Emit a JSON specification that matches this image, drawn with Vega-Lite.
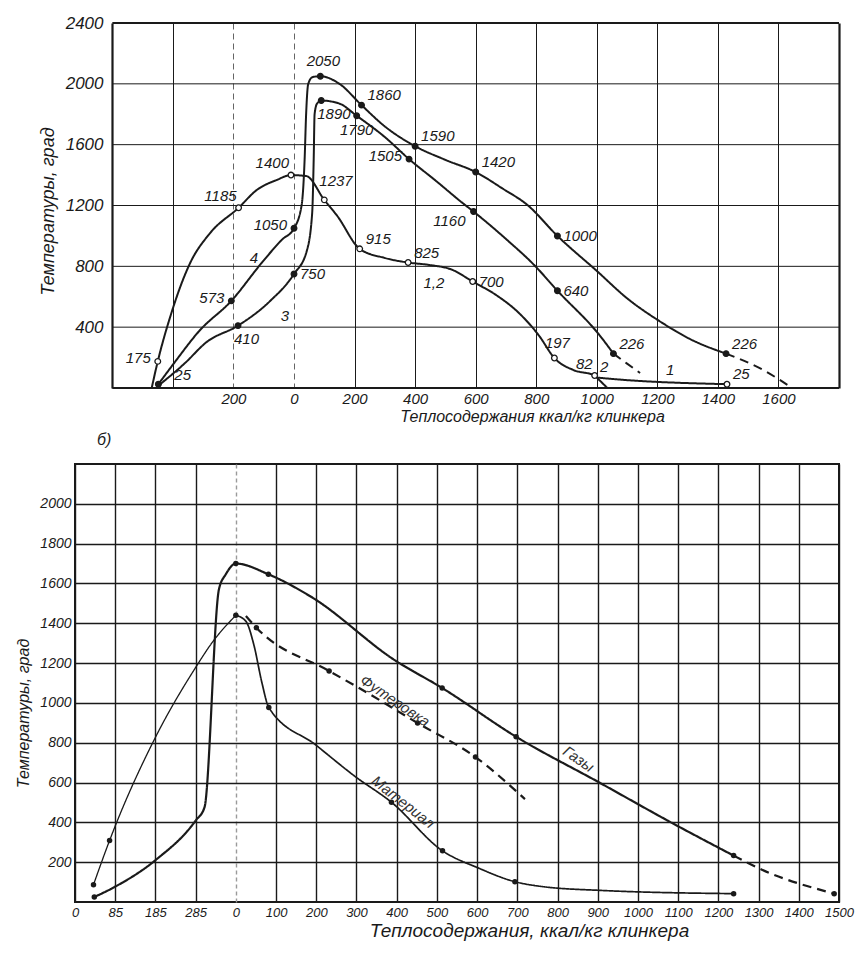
{
  "$schema": "https://vega.github.io/schema/vega-lite/v6.json",
  "background": "white",
  "padding": {"left": 14, "top": 14, "right": 5, "bottom": 5},
  "spacing": 7,
  "config": {
    "view": {"stroke": null},
    "axis": {
      "labelFont": "Liberation Sans", "titleFont": "Liberation Sans",
      "labelFontStyle": "italic", "titleFontStyle": "italic", "titleFontWeight": "normal",
      "labelColor": "#1a1a1a", "titleColor": "#1a1a1a", "gridOpacity": 1
    },
    "title": {"font": "Liberation Sans"}
  },
  "datasets": {
    "hg": [{"y": 0}, {"y": 400}, {"y": 800}, {"y": 1200}, {"y": 1600}, {"y": 2000}, {"y": 2400}],
    "bg": [{"y": 200}, {"y": 400}, {"y": 600}, {"y": 800}, {"y": 1000}, {"y": 1200}, {"y": 1400}, {"y": 1600}, {"y": 1800}, {"y": 2000}],
    "tl": [
      {"s": "c12", "o": 1, "x": -470, "y": 0},
      {"s": "c12", "o": 2, "x": -450, "y": 175},
      {"s": "c12", "o": 3, "x": -407, "y": 480},
      {"s": "c12", "o": 4, "x": -343, "y": 822},
      {"s": "c12", "o": 5, "x": -277, "y": 1019},
      {"s": "c12", "o": 6, "x": -183, "y": 1185},
      {"s": "c12", "o": 7, "x": -123, "y": 1302},
      {"s": "c12", "o": 8, "x": -57, "y": 1368},
      {"s": "c12", "o": 9, "x": -10, "y": 1400},
      {"s": "c12", "o": 10, "x": 40, "y": 1394},
      {"s": "c12", "o": 11, "x": 100, "y": 1237},
      {"s": "c12", "o": 12, "x": 143, "y": 1131},
      {"s": "c12", "o": 13, "x": 217, "y": 915},
      {"s": "c12", "o": 14, "x": 300, "y": 855},
      {"s": "c12", "o": 15, "x": 377, "y": 825},
      {"s": "c12", "o": 16, "x": 443, "y": 810},
      {"s": "c12", "o": 17, "x": 523, "y": 777},
      {"s": "c12", "o": 18, "x": 590, "y": 700},
      {"s": "c12", "o": 19, "x": 667, "y": 612},
      {"s": "c12", "o": 20, "x": 743, "y": 493},
      {"s": "c12", "o": 21, "x": 810, "y": 342},
      {"s": "c12", "o": 22, "x": 860, "y": 197},
      {"s": "c12", "o": 23, "x": 923, "y": 118},
      {"s": "c12", "o": 24, "x": 993, "y": 82},
      {"s": "c12", "o": 25, "x": 1005, "y": 68},
      {"s": "c12", "o": 26, "x": 1430, "y": 25},
      {"s": "c2", "o": 1, "x": 993, "y": 82},
      {"s": "c2", "o": 2, "x": 1012, "y": 45},
      {"s": "c2", "o": 3, "x": 1035, "y": 0},
      {"s": "c4", "o": 1, "x": -448, "y": 25},
      {"s": "c4", "o": 2, "x": -396, "y": 164},
      {"s": "c4", "o": 3, "x": -313, "y": 375},
      {"s": "c4", "o": 4, "x": -207, "y": 573},
      {"s": "c4", "o": 5, "x": -107, "y": 822},
      {"s": "c4", "o": 6, "x": -40, "y": 975},
      {"s": "c4", "o": 7, "x": 0, "y": 1050},
      {"s": "c4", "o": 8, "x": 25, "y": 1200},
      {"s": "c4", "o": 9, "x": 35, "y": 1500},
      {"s": "c4", "o": 10, "x": 40, "y": 1800},
      {"s": "c4", "o": 11, "x": 47, "y": 2000},
      {"s": "c4", "o": 12, "x": 62, "y": 2045},
      {"s": "c4", "o": 13, "x": 87, "y": 2050},
      {"s": "c4", "o": 14, "x": 150, "y": 2000},
      {"s": "c4", "o": 15, "x": 223, "y": 1860},
      {"s": "c4", "o": 16, "x": 300, "y": 1720},
      {"s": "c4", "o": 17, "x": 400, "y": 1590},
      {"s": "c4", "o": 18, "x": 500, "y": 1500},
      {"s": "c4", "o": 19, "x": 600, "y": 1420},
      {"s": "c4", "o": 20, "x": 690, "y": 1310},
      {"s": "c4", "o": 21, "x": 770, "y": 1205},
      {"s": "c4", "o": 22, "x": 870, "y": 1000},
      {"s": "c4", "o": 23, "x": 1000, "y": 770},
      {"s": "c4", "o": 24, "x": 1100, "y": 590},
      {"s": "c4", "o": 25, "x": 1207, "y": 440},
      {"s": "c4", "o": 26, "x": 1310, "y": 320},
      {"s": "c4", "o": 27, "x": 1427, "y": 226},
      {"s": "c3", "o": 1, "x": -450, "y": 12},
      {"s": "c3", "o": 2, "x": -360, "y": 164},
      {"s": "c3", "o": 3, "x": -290, "y": 300},
      {"s": "c3", "o": 4, "x": -185, "y": 410},
      {"s": "c3", "o": 5, "x": -80, "y": 570},
      {"s": "c3", "o": 6, "x": 0, "y": 750},
      {"s": "c3", "o": 7, "x": 42, "y": 900},
      {"s": "c3", "o": 8, "x": 60, "y": 1150},
      {"s": "c3", "o": 9, "x": 65, "y": 1500},
      {"s": "c3", "o": 10, "x": 68, "y": 1800},
      {"s": "c3", "o": 11, "x": 76, "y": 1870},
      {"s": "c3", "o": 12, "x": 90, "y": 1890},
      {"s": "c3", "o": 13, "x": 150, "y": 1870},
      {"s": "c3", "o": 14, "x": 207, "y": 1790},
      {"s": "c3", "o": 15, "x": 300, "y": 1650},
      {"s": "c3", "o": 16, "x": 380, "y": 1505},
      {"s": "c3", "o": 17, "x": 470, "y": 1360},
      {"s": "c3", "o": 18, "x": 557, "y": 1216},
      {"s": "c3", "o": 19, "x": 593, "y": 1160},
      {"s": "c3", "o": 20, "x": 700, "y": 980},
      {"s": "c3", "o": 21, "x": 793, "y": 809},
      {"s": "c3", "o": 22, "x": 870, "y": 640},
      {"s": "c3", "o": 23, "x": 1010, "y": 345},
      {"s": "c3", "o": 24, "x": 1055, "y": 226},
      {"s": "c3d", "o": 1, "x": 1055, "y": 226},
      {"s": "c3d", "o": 2, "x": 1100, "y": 160},
      {"s": "c3d", "o": 3, "x": 1143, "y": 99},
      {"s": "c4d", "o": 1, "x": 1427, "y": 226},
      {"s": "c4d", "o": 2, "x": 1550, "y": 118},
      {"s": "c4d", "o": 3, "x": 1645, "y": 0}
    ],
    "tp": [
      {"s": "c12", "x": -450, "y": 175, "label": "175"},
      {"s": "c12", "x": -183, "y": 1185, "label": "1185"},
      {"s": "c12", "x": -10, "y": 1400, "label": "1400"},
      {"s": "c12", "x": 100, "y": 1237, "label": "1237"},
      {"s": "c12", "x": 217, "y": 915, "label": "915"},
      {"s": "c12", "x": 377, "y": 825, "label": "825"},
      {"s": "c12", "x": 590, "y": 700, "label": "700"},
      {"s": "c12", "x": 860, "y": 197, "label": "197"},
      {"s": "c12", "x": 993, "y": 82, "label": "82"},
      {"s": "c12", "x": 1430, "y": 25, "label": "25"},
      {"s": "c4", "x": -448, "y": 25, "label": "25"},
      {"s": "c4", "x": -207, "y": 573, "label": "573"},
      {"s": "c4", "x": 0, "y": 1050, "label": "1050"},
      {"s": "c4", "x": 87, "y": 2050, "label": "2050"},
      {"s": "c4", "x": 223, "y": 1860, "label": "1860"},
      {"s": "c4", "x": 400, "y": 1590, "label": "1590"},
      {"s": "c4", "x": 600, "y": 1420, "label": "1420"},
      {"s": "c4", "x": 870, "y": 1000, "label": "1000"},
      {"s": "c4", "x": 1427, "y": 226, "label": "226"},
      {"s": "c3", "x": -185, "y": 410, "label": "410"},
      {"s": "c3", "x": 0, "y": 750, "label": "750"},
      {"s": "c3", "x": 90, "y": 1890, "label": "1890"},
      {"s": "c3", "x": 207, "y": 1790, "label": "1790"},
      {"s": "c3", "x": 380, "y": 1505, "label": "1505"},
      {"s": "c3", "x": 593, "y": 1160, "label": "1160"},
      {"s": "c3", "x": 870, "y": 640, "label": "640"},
      {"s": "c3", "x": 1055, "y": 226, "label": "226"}
    ],
    "tn": [
      {"x": -132, "y": 855, "t": "4"},
      {"x": -30, "y": 473, "t": "3"},
      {"x": 462, "y": 690, "t": "1,2"},
      {"x": 1024, "y": 138, "t": "2"},
      {"x": 1242, "y": 118, "t": "1"}
    ],
    "bl": [
      {"s": "gas", "o": 1, "x": -352, "y": 25},
      {"s": "gas", "o": 2, "x": -302, "y": 75},
      {"s": "gas", "o": 3, "x": -200, "y": 210},
      {"s": "gas", "o": 4, "x": -100, "y": 409},
      {"s": "gas", "o": 5, "x": -78, "y": 475},
      {"s": "gas", "o": 6, "x": -42, "y": 1571},
      {"s": "gas", "o": 7, "x": -25, "y": 1646},
      {"s": "gas", "o": 8, "x": 0, "y": 1700},
      {"s": "gas", "o": 9, "x": 81, "y": 1646},
      {"s": "gas", "o": 10, "x": 188, "y": 1532},
      {"s": "gas", "o": 11, "x": 395, "y": 1215},
      {"s": "gas", "o": 12, "x": 513, "y": 1075},
      {"s": "gas", "o": 13, "x": 697, "y": 830},
      {"s": "gas", "o": 14, "x": 904, "y": 600},
      {"s": "gas", "o": 15, "x": 1082, "y": 400},
      {"s": "gas", "o": 16, "x": 1238, "y": 233},
      {"s": "gasD", "o": 1, "x": 1238, "y": 233},
      {"s": "gasD", "o": 2, "x": 1303, "y": 167},
      {"s": "gasD", "o": 3, "x": 1488, "y": 42},
      {"s": "matL", "o": 1, "x": -354, "y": 87},
      {"s": "matL", "o": 2, "x": -314, "y": 309},
      {"s": "matL", "o": 3, "x": -200, "y": 827},
      {"s": "matL", "o": 4, "x": -100, "y": 1178},
      {"s": "matL", "o": 5, "x": -59, "y": 1303},
      {"s": "matL", "o": 6, "x": 0, "y": 1440},
      {"s": "mat", "o": 1, "x": 0, "y": 1440},
      {"s": "mat", "o": 2, "x": 25, "y": 1410},
      {"s": "mat", "o": 3, "x": 45, "y": 1290},
      {"s": "mat", "o": 4, "x": 65, "y": 1100},
      {"s": "mat", "o": 5, "x": 82, "y": 977},
      {"s": "mat", "o": 6, "x": 198, "y": 790},
      {"s": "mat", "o": 7, "x": 297, "y": 630},
      {"s": "mat", "o": 8, "x": 387, "y": 501},
      {"s": "mat", "o": 9, "x": 514, "y": 257},
      {"s": "mat", "o": 10, "x": 604, "y": 170},
      {"s": "mat", "o": 11, "x": 694, "y": 102},
      {"s": "mat", "o": 12, "x": 760, "y": 78},
      {"s": "mat", "o": 13, "x": 910, "y": 58},
      {"s": "mat", "o": 14, "x": 1238, "y": 42},
      {"s": "fut", "o": 1, "x": 25, "y": 1437},
      {"s": "fut", "o": 2, "x": 51, "y": 1378},
      {"s": "fut", "o": 3, "x": 232, "y": 1160},
      {"s": "fut", "o": 4, "x": 297, "y": 1086},
      {"s": "fut", "o": 5, "x": 452, "y": 899},
      {"s": "fut", "o": 6, "x": 596, "y": 728},
      {"s": "fut", "o": 7, "x": 719, "y": 517}
    ],
    "bp": [
      {"x": -352, "y": 25}, {"x": 0, "y": 1700}, {"x": 81, "y": 1646}, {"x": 513, "y": 1075},
      {"x": 697, "y": 830}, {"x": 1238, "y": 233}, {"x": 1488, "y": 42},
      {"x": -354, "y": 87}, {"x": -314, "y": 309}, {"x": 0, "y": 1440},
      {"x": 82, "y": 977}, {"x": 387, "y": 501}, {"x": 514, "y": 257}, {"x": 694, "y": 102}, {"x": 1238, "y": 42},
      {"x": 51, "y": 1378}, {"x": 232, "y": 1160}, {"x": 452, "y": 899}, {"x": 596, "y": 728}
    ],
    "bt": [
      {"x": 396, "y": 1010, "t": "Футеровка"},
      {"x": 416, "y": 502, "t": "Материал"},
      {"x": 852, "y": 718, "t": "Газы"}
    ]
  },
  "vconcat": [
    {
      "width": 764,
      "height": 365,
      "layer": [
        {
          "data": {"name": "hg"},
          "mark": {"type": "rule", "color": "#1a1a1a"},
          "encoding": {
            "y": {"field": "y", "type": "quantitative", "scale": {"domain": [0, 2400], "nice": false, "zero": false}},
            "x": {"datum": -600, "type": "quantitative", "scale": {"domain": [-723.33, 1800], "nice": false, "zero": false}},
            "x2": {"datum": 1800},
            "strokeWidth": {"condition": {"test": "datum.y == 0 || datum.y == 2400", "value": 2.2}, "value": 1}
          }
        },
        {
          "data": {"name": "tl"},
          "mark": {"type": "line", "interpolate": "monotone", "color": "#1a1a1a", "strokeWidth": 2},
          "encoding": {
            "x": {
              "field": "x", "type": "quantitative",
              "scale": {"domain": [-723.33, 1800], "nice": false, "zero": false},
              "axis": {
                "values": [-600, -400, -200, 0, 200, 400, 600, 800, 1000, 1200, 1400, 1600, 1800],
                "format": "d",
                "labelExpr": "datum.value == -200 ? '200' : (datum.value >= 0 && datum.value <= 1600 ? datum.label : '')",
                "grid": true,
                "gridColor": {"condition": {"test": "datum.value == -200 || datum.value == 0", "value": "#666666"}, "value": "#1a1a1a"},
                "gridDash": {"condition": {"test": "datum.value == -200 || datum.value == 0", "value": [6, 4]}, "value": []},
                "gridWidth": {"condition": {"test": "datum.value == -600 || datum.value == 1800", "value": 2.2}, "value": 1},
                "domain": false, "ticks": false,
                "labelPadding": 3, "labelFontSize": 15, "labelFlush": false, "labelOverlap": false,
                "title": "Теплосодержания ккал/кг клинкера",
                "titleFontSize": 16, "titleX": 457, "titleY": 28, "titleBaseline": "middle"
              }
            },
            "y": {
              "field": "y", "type": "quantitative",
              "scale": {"domain": [0, 2400], "nice": false, "zero": false},
              "axis": {
                "values": [400, 800, 1200, 1600, 2000, 2400],
                "format": "d",
                "grid": false, "domain": false, "ticks": false,
                "offset": -37,
                "labelPadding": 9, "labelFontSize": 17, "labelOverlap": false,
                "title": "Температуры, град",
                "titleFontSize": 18, "titlePadding": 8, "titleY": 188
              }
            },
            "detail": {"field": "s"},
            "order": {"field": "o"},
            "strokeDash": {"condition": {"test": "datum.s == 'c3d' || datum.s == 'c4d'", "value": [9, 6]}, "value": [1, 0]}
          }
        },
        {
          "data": {"name": "tp"},
          "mark": {"type": "point", "shape": "circle", "size": 32, "filled": true, "strokeWidth": 1.3, "opacity": 1},
          "encoding": {
            "x": {"field": "x", "type": "quantitative"},
            "y": {"field": "y", "type": "quantitative"},
            "fill": {"condition": {"test": "datum.s == 'c12'", "value": "white"}, "value": "#1a1a1a"},
            "stroke": {"value": "#1a1a1a"}
          }
        },
        {
          "data": {"name": "tp"},
          "transform": [{"filter": "indexof(['c4:1860','c4:1590','c4:1420','c3:226','c4:226','c12:25','c12:915','c12:825'], datum.s + ':' + datum.label) >= 0"}],
          "mark": {"type": "text", "align": "left", "baseline": "middle", "dx": 6, "dy": -10, "fontSize": 15, "fontStyle": "italic", "font": "Liberation Sans", "color": "#1a1a1a"},
          "encoding": {"x": {"field": "x", "type": "quantitative"}, "y": {"field": "y", "type": "quantitative"}, "text": {"field": "label"}}
        },
        {
          "data": {"name": "tp"},
          "transform": [{"filter": "indexof(['c4:1000','c3:640','c12:700','c3:750'], datum.s + ':' + datum.label) >= 0"}],
          "mark": {"type": "text", "align": "left", "baseline": "middle", "dx": 6, "dy": 0, "fontSize": 15, "fontStyle": "italic", "font": "Liberation Sans", "color": "#1a1a1a"},
          "encoding": {"x": {"field": "x", "type": "quantitative"}, "y": {"field": "y", "type": "quantitative"}, "text": {"field": "label"}}
        },
        {
          "data": {"name": "tp"},
          "transform": [{"filter": "indexof(['c4:2050','c12:197'], datum.s + ':' + datum.label) >= 0"}],
          "mark": {"type": "text", "align": "center", "baseline": "middle", "dx": 3, "dy": -15, "fontSize": 15, "fontStyle": "italic", "font": "Liberation Sans", "color": "#1a1a1a"},
          "encoding": {"x": {"field": "x", "type": "quantitative"}, "y": {"field": "y", "type": "quantitative"}, "text": {"field": "label"}}
        },
        {
          "data": {"name": "tp"},
          "transform": [{"filter": "indexof(['c12:1400','c12:1185','c12:82'], datum.s + ':' + datum.label) >= 0"}],
          "mark": {"type": "text", "align": "right", "baseline": "middle", "dx": -2, "dy": -12, "fontSize": 15, "fontStyle": "italic", "font": "Liberation Sans", "color": "#1a1a1a"},
          "encoding": {"x": {"field": "x", "type": "quantitative"}, "y": {"field": "y", "type": "quantitative"}, "text": {"field": "label"}}
        },
        {
          "data": {"name": "tp"},
          "transform": [{"filter": "indexof(['c3:1505','c4:1050','c4:573','c12:175'], datum.s + ':' + datum.label) >= 0"}],
          "mark": {"type": "text", "align": "right", "baseline": "middle", "dx": -7, "dy": -3, "fontSize": 15, "fontStyle": "italic", "font": "Liberation Sans", "color": "#1a1a1a"},
          "encoding": {"x": {"field": "x", "type": "quantitative"}, "y": {"field": "y", "type": "quantitative"}, "text": {"field": "label"}}
        },
        {
          "data": {"name": "tp"},
          "transform": [{"filter": "indexof(['c3:1890','c3:410'], datum.s + ':' + datum.label) >= 0"}],
          "mark": {"type": "text", "align": "left", "baseline": "middle", "dx": -4, "dy": 13, "fontSize": 15, "fontStyle": "italic", "font": "Liberation Sans", "color": "#1a1a1a"},
          "encoding": {"x": {"field": "x", "type": "quantitative"}, "y": {"field": "y", "type": "quantitative"}, "text": {"field": "label"}}
        },
        {
          "data": {"name": "tp"},
          "transform": [{"filter": "datum.s == 'c3' && datum.label == '1790'"}],
          "mark": {"type": "text", "align": "center", "baseline": "middle", "dx": 0, "dy": 14, "fontSize": 15, "fontStyle": "italic", "font": "Liberation Sans", "color": "#1a1a1a"},
          "encoding": {"x": {"field": "x", "type": "quantitative"}, "y": {"field": "y", "type": "quantitative"}, "text": {"field": "label"}}
        },
        {
          "data": {"name": "tp"},
          "transform": [{"filter": "datum.s == 'c12' && datum.label == '1237'"}],
          "mark": {"type": "text", "align": "left", "baseline": "middle", "dx": -5, "dy": -19, "fontSize": 15, "fontStyle": "italic", "font": "Liberation Sans", "color": "#1a1a1a"},
          "encoding": {"x": {"field": "x", "type": "quantitative"}, "y": {"field": "y", "type": "quantitative"}, "text": {"field": "label"}}
        },
        {
          "data": {"name": "tp"},
          "transform": [{"filter": "datum.s == 'c3' && datum.label == '1160'"}],
          "mark": {"type": "text", "align": "right", "baseline": "middle", "dx": -8, "dy": 9, "fontSize": 15, "fontStyle": "italic", "font": "Liberation Sans", "color": "#1a1a1a"},
          "encoding": {"x": {"field": "x", "type": "quantitative"}, "y": {"field": "y", "type": "quantitative"}, "text": {"field": "label"}}
        },
        {
          "data": {"name": "tp"},
          "transform": [{"filter": "datum.s == 'c4' && datum.label == '25'"}],
          "mark": {"type": "text", "align": "left", "baseline": "middle", "dx": 16, "dy": -9, "fontSize": 15, "fontStyle": "italic", "font": "Liberation Sans", "color": "#1a1a1a"},
          "encoding": {"x": {"field": "x", "type": "quantitative"}, "y": {"field": "y", "type": "quantitative"}, "text": {"field": "label"}}
        },
        {
          "data": {"name": "tn"},
          "mark": {"type": "text", "align": "center", "baseline": "middle", "fontSize": 15, "fontStyle": "italic", "font": "Liberation Sans", "color": "#1a1a1a"},
          "encoding": {"x": {"field": "x", "type": "quantitative"}, "y": {"field": "y", "type": "quantitative"}, "text": {"field": "t"}}
        }
      ]
    },
    {
      "width": 764,
      "height": 438,
      "title": {"text": "б)", "anchor": "start", "frame": "group", "dx": 22, "offset": 16, "fontSize": 16, "fontStyle": "italic", "fontWeight": "normal", "font": "Liberation Sans", "color": "#1a1a1a"},
      "view": {"stroke": "#1a1a1a", "strokeWidth": 2},
      "layer": [
        {
          "data": {"name": "bl"},
          "mark": {"type": "line", "interpolate": "monotone", "color": "#1a1a1a"},
          "encoding": {
            "x": {
              "field": "x", "type": "quantitative",
              "scale": {"domain": [-400, 1500], "nice": false, "zero": false},
              "axis": {
                "values": [-400, -300, -200, -100, 0, 100, 200, 300, 400, 500, 600, 700, 800, 900, 1000, 1100, 1200, 1300, 1400, 1500],
                "format": "d",
                "labelExpr": "datum.value == -400 ? '0' : datum.value == -300 ? '85' : datum.value == -200 ? '185' : datum.value == -100 ? '285' : datum.label",
                "grid": true,
                "gridColor": {"condition": {"test": "datum.value == 0", "value": "#9a9a9a"}, "value": "#1a1a1a"},
                "gridDash": {"condition": {"test": "datum.value == 0", "value": [4, 3]}, "value": []},
                "gridWidth": 1.4,
                "domain": false, "ticks": false,
                "labelPadding": 4, "labelFontSize": 13, "labelFlush": false, "labelOverlap": false,
                "title": "Теплосодержания, ккал/кг клинкера",
                "titleFontSize": 19, "titleX": 454, "titleY": 28, "titleBaseline": "middle"
              }
            },
            "y": {
              "field": "y", "type": "quantitative",
              "scale": {"domain": [0, 2200], "nice": false, "zero": false},
              "axis": {
                "values": [200, 400, 600, 800, 1000, 1200, 1400, 1600, 1800, 2000],
                "format": "d",
                "grid": true, "gridColor": "#1a1a1a", "gridWidth": 1.4,
                "domain": false, "ticks": false,
                "labelPadding": 4, "labelFontSize": 14, "labelOverlap": false, "labelSeparation": 0,
                "title": "Температуры, град",
                "titleFontSize": 16, "titlePadding": 8, "titleY": 249
              }
            },
            "detail": {"field": "s"},
            "order": {"field": "o"},
            "strokeDash": {"condition": {"test": "datum.s == 'gasD' || datum.s == 'fut'", "value": [9, 6]}, "value": [1, 0]},
            "strokeWidth": {"condition": [{"test": "datum.s == 'matL'", "value": 1.3}, {"test": "datum.s == 'mat'", "value": 1.7}], "value": 2.2}
          }
        },
        {
          "data": {"name": "bp"},
          "mark": {"type": "point", "shape": "circle", "size": 30, "filled": true, "color": "#1a1a1a", "opacity": 1},
          "encoding": {
            "x": {"field": "x", "type": "quantitative"},
            "y": {"field": "y", "type": "quantitative"}
          }
        },
        {
          "data": {"name": "bt"},
          "mark": {"type": "text", "align": "center", "baseline": "middle", "fontSize": 15, "fontStyle": "italic", "font": "Liberation Sans", "color": "#333333"},
          "encoding": {
            "x": {"field": "x", "type": "quantitative"},
            "y": {"field": "y", "type": "quantitative"},
            "text": {"field": "t"},
            "angle": {"condition": {"test": "datum.t == 'Материал'", "value": 38}, "value": 34}
          }
        }
      ]
    }
  ]
}
